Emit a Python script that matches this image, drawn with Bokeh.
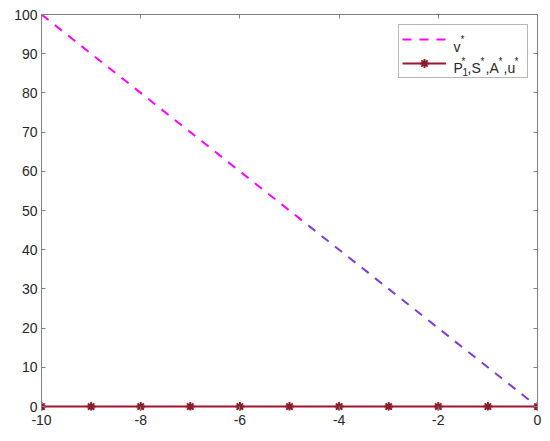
from bokeh.plotting import figure
from bokeh.models import Range1d, LinearAxis, FixedTicker, Legend, LegendItem, Label
from bokeh.embed import file_html
from bokeh.resources import INLINE

# ---- data ----
x_ticks = [-10, -8, -6, -4, -2, 0]
y_ticks = [0, 10, 20, 30, 40, 50, 60, 70, 80, 90, 100]
v_head_x = [-10, -4.7]
v_head_y = [100, 47]
v_tail_x = [-4.7, 0]
v_tail_y = [47, 0]
p_x = [-10, -9, -8, -7, -6, -5, -4, -3, -2, -1, 0]
p_y = [0, 0, 0, 0, 0, 0, 0, 0, 0, 0, 0]

FONT = "Liberation Sans"
AXIS_COLOR = "#7f7f7f"
TEXT_COLOR = "#262626"

p = figure(frame_width=496, frame_height=396,
           min_border_left=41, min_border_right=13, min_border_top=14, min_border_bottom=31,
           x_range=Range1d(-10, 0), y_range=Range1d(-1, 100),
           output_backend="svg", toolbar_location=None,
           background_fill_color="white", border_fill_color="white")
p.xgrid.visible = False
p.ygrid.visible = False
p.outline_line_color = None


def style_axis(ax, ticks, show_labels=True, standoff=4):
    ax.ticker = FixedTicker(ticks=ticks)
    ax.axis_line_color = AXIS_COLOR
    ax.major_tick_line_color = AXIS_COLOR
    ax.major_tick_in = 4
    ax.major_tick_out = 0
    ax.minor_tick_in = 0
    ax.minor_tick_out = 0
    ax.minor_tick_line_color = None
    ax.major_label_text_font = FONT
    ax.major_label_text_color = TEXT_COLOR
    ax.major_label_overrides = {t: str(t) for t in ticks}
    if show_labels:
        ax.major_label_text_font_size = "14px"
        ax.major_label_standoff = standoff
    else:
        ax.major_label_text_font_size = "1px"
        ax.major_label_text_color = None
        ax.major_label_standoff = 0


style_axis(p.xaxis[0], x_ticks, standoff=4)
style_axis(p.yaxis[0], y_ticks, standoff=4)
p.xaxis[0].axis_line_color = None
top_ax = LinearAxis()
right_ax = LinearAxis()
style_axis(top_ax, x_ticks, show_labels=False)
style_axis(right_ax, y_ticks, show_labels=False)
p.add_layout(top_ax, "above")
p.add_layout(right_ax, "right")

rv = p.line(v_head_x, v_head_y, line_color="#FF00FF", line_width=2, line_dash="9 8")
rv2 = p.line(v_tail_x, v_tail_y, line_color="#7A3CDB", line_width=2, line_dash="9 8",
             line_dash_offset=12)
rp = p.line(p_x, p_y, line_color="#A2142F", line_width=2)
rm = p.scatter(p_x, p_y, marker="asterisk", size=9, line_color="#8A1C2C", line_width=2)

legend = Legend(items=[LegendItem(label=" ", renderers=[rv]),
                       LegendItem(label=" ", renderers=[rp, rm])],
                location=(357, 332), padding=3, spacing=2, margin=0,
                glyph_width=44, glyph_height=22, label_standoff=5,
                label_width=73, label_height=22,
                label_text_font=FONT, label_text_font_size="13px",
                border_line_color="#6f6f6f", border_line_width=1,
                background_fill_color="white", background_fill_alpha=0.0)
p.add_layout(legend, "center")


# legend text pieces, placed by the pixel position they take in the picture
def dx(px):
    return -10 + (px - 41) / 49.6


def dy(py):
    return (406 - py) / 3.92


legend_text = [
    ("v", 453, 46, "14px"), ("*", 460, 39, "10px"),
    ("P", 453, 67, "14px"), ("1", 462, 71, "10px"), ("*", 461, 61, "10px"),
    (",S", 467, 67, "14px"), ("*", 480, 61, "10px"),
    (",A", 485, 67, "14px"), ("*", 498, 61, "10px"),
    (",u", 503, 67, "14px"), ("*", 514, 61, "10px"),
]
for t, px, py, fs in legend_text:
    p.add_layout(Label(x=dx(px), y=dy(py), text=t, text_font=FONT, text_font_size=fs,
                       text_color=TEXT_COLOR, text_baseline="alphabetic", text_align="left"))

open("out.html", "w").write(file_html(p, INLINE))
